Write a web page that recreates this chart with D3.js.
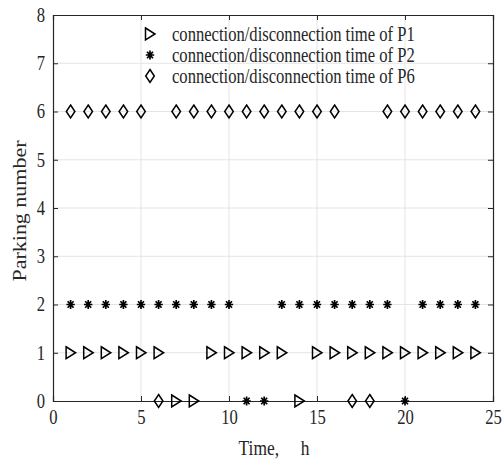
<!DOCTYPE html>
<html>
<head>
<meta charset="utf-8">
<script src="https://cdn.jsdelivr.net/npm/d3@7/dist/d3.min.js"></script>
<style>
  body { margin: 0; background: #fff; }
  svg { display: block; }
  text { font-family: "Liberation Serif", "Times New Roman", serif; fill: #262626; }
</style>
</head>
<body>
<svg id="chart" width="502" height="463"></svg>
<script>
// ---- Data ----
const xTicks = [0, 5, 10, 15, 20, 25];
const yTicks = [0, 1, 2, 3, 4, 5, 6, 7, 8];
const legendLabels = [
  "connection/disconnection time of P1",
  "connection/disconnection time of P2",
  "connection/disconnection time of P6"
];
// P1 (triangle) : [time, parking number]
const p1Points = [
  [1,1],[2,1],[3,1],[4,1],[5,1],[6,1],
  [9,1],[10,1],[11,1],[12,1],[13,1],
  [15,1],[16,1],[17,1],[18,1],[19,1],[20,1],[21,1],[22,1],[23,1],[24,1],
  [7,0],[8,0],[14,0]
];
// P2 (asterisk)
const p2Points = [
  [1,2],[2,2],[3,2],[4,2],[5,2],[6,2],[7,2],[8,2],[9,2],[10,2],
  [13,2],[14,2],[15,2],[16,2],[17,2],[18,2],[19,2],
  [21,2],[22,2],[23,2],[24,2],
  [11,0],[12,0],[20,0]
];
// P6 (diamond)
const p6Points = [
  [1,6],[2,6],[3,6],[4,6],[5,6],
  [7,6],[8,6],[9,6],[10,6],[11,6],[12,6],[13,6],[14,6],[15,6],[16,6],
  [19,6],[20,6],[21,6],[22,6],[23,6],[24,6],
  [6,0],[17,0],[18,0]
];

// ---- Layout ----
const SQ = 0.83; // horizontal squeeze of the text glyphs
const svg = d3.select("#chart");
const L = 53, R = 493, T = 15, B = 401;
const x = d3.scaleLinear().domain([0, 25]).range([L, R]);
const y = d3.scaleLinear().domain([0, 8]).range([B, T]);

// grid
const grid = svg.append("g");
grid.selectAll(".gx").data(xTicks.slice(1, -1)).enter().append("line")
  .attr("x1", d => x(d)).attr("x2", d => x(d)).attr("y1", T).attr("y2", B)
  .attr("stroke", "#e4e4e4").attr("stroke-width", 1);
grid.selectAll(".gy").data(yTicks.slice(1, -1)).enter().append("line")
  .attr("y1", d => y(d)).attr("y2", d => y(d)).attr("x1", L).attr("x2", R)
  .attr("stroke", "#e4e4e4").attr("stroke-width", 1);

// axes (ticks inward, MATLAB box)
const tickLen = 5;
const axB = svg.append("g").attr("transform", `translate(0,${B})`)
  .call(d3.axisBottom(x).tickValues(xTicks).tickSize(-tickLen).tickPadding(9).tickFormat(d3.format("d")));
const axT = svg.append("g").attr("transform", `translate(0,${T})`)
  .call(d3.axisTop(x).tickValues(xTicks).tickSize(-tickLen).tickFormat(""));
const axL = svg.append("g").attr("transform", `translate(${L},0)`)
  .call(d3.axisLeft(y).tickValues(yTicks).tickSize(-tickLen).tickPadding(9).tickFormat(d3.format("d")));
const axR = svg.append("g").attr("transform", `translate(${R},0)`)
  .call(d3.axisRight(y).tickValues(yTicks).tickSize(-tickLen).tickFormat(""));
[axB, axT, axL, axR].forEach(a => {
  a.select(".domain").attr("stroke", "#262626").attr("stroke-width", 1.2);
  a.selectAll(".tick line").attr("stroke", "#262626").attr("stroke-width", 1);
  a.selectAll(".tick text").attr("font-size", 20)
    .attr("font-family", '"Liberation Serif", "Times New Roman", serif').attr("fill", "#262626")
    .attr("transform", `scale(${SQ},1)`);
});
axB.selectAll(".tick text").attr("dy", "0.71em");
axL.selectAll(".tick text").attr("x", -8 / SQ);

// axis titles
svg.append("text")
  .attr("transform", `translate(${x(12.5) + 1},455) scale(${SQ},1)`)
  .attr("text-anchor", "middle").attr("font-size", 21)
  .attr("xml:space", "preserve").text("Time,\u2003 h");
svg.append("text")
  .attr("transform", `translate(26,${y(4) + 3}) scale(${SQ},1) rotate(-90)`)
  .attr("text-anchor", "middle").attr("font-size", 22).text("Parking number");

// ---- Markers ----
function triPath(cx, cy) {
  return `M${cx - 4.5},${cy - 6}L${cx + 5},${cy}L${cx - 4.5},${cy + 6}Z`;
}
function diaPath(cx, cy) {
  return `M${cx},${cy - 6.5}L${cx + 4.3},${cy}L${cx},${cy + 6.5}L${cx - 4.3},${cy}Z`;
}
function starPath(cx, cy) {
  const rx = 4.2, ry = 4.6;
  let p = "";
  for (let i = 0; i < 4; i++) {
    const a = i * Math.PI / 4;
    const dx = rx * Math.cos(a), dy = ry * Math.sin(a);
    p += `M${cx - dx},${cy - dy}L${cx + dx},${cy + dy}`;
  }
  return p;
}

const marks = svg.append("g");
marks.selectAll(".p6").data(p6Points).enter().append("path")
  .attr("d", d => diaPath(x(d[0]), y(d[1])))
  .attr("fill", "none").attr("stroke", "#000").attr("stroke-width", 1.5);
marks.selectAll(".p1").data(p1Points).enter().append("path")
  .attr("d", d => triPath(x(d[0]), y(d[1])))
  .attr("fill", "none").attr("stroke", "#000").attr("stroke-width", 1.5);
marks.selectAll(".p2").data(p2Points).enter().append("path")
  .attr("d", d => starPath(x(d[0]), y(d[1])))
  .attr("fill", "none").attr("stroke", "#000").attr("stroke-width", 1.7);

// ---- Legend ----
const legend = svg.append("g");
const legY = [34, 55, 76];
const legFns = [triPath, starPath, diaPath];
legendLabels.forEach((lab, i) => {
  legend.append("path").attr("d", legFns[i](150, legY[i]))
    .attr("fill", "none").attr("stroke", "#000").attr("stroke-width", i === 1 ? 1.7 : 1.5);
  legend.append("text")
    .attr("transform", `translate(172,${legY[i] + 7}) scale(${SQ},1)`)
    .attr("font-size", 20).text(lab);
});
</script>
</body>
</html>
